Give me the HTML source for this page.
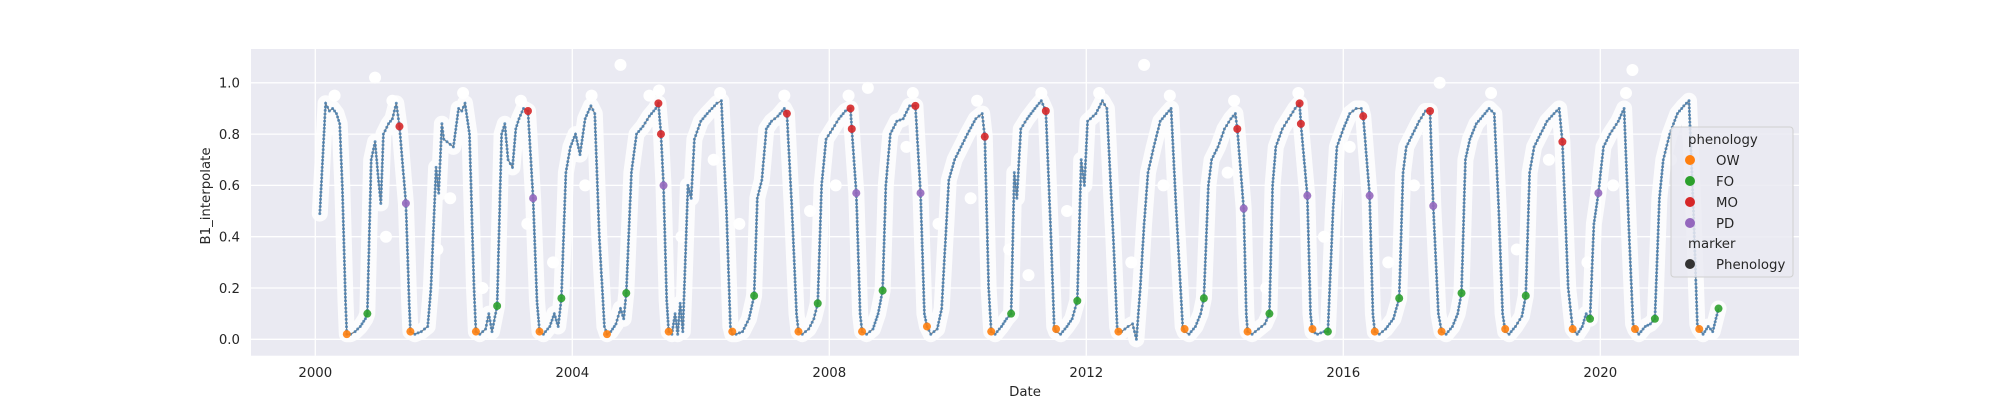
<!DOCTYPE html>
<html><head><meta charset="utf-8"><style>
html,body{margin:0;padding:0;background:#fff;}
svg{display:block;font-family:"DejaVu Sans","Liberation Sans",sans-serif;}
</style></head><body>
<svg id="chart" width="2000" height="400" viewBox="0 0 2000 400" xmlns="http://www.w3.org/2000/svg">
<rect x="251" y="49" width="1548" height="306.7" fill="#eaeaf2"/>
<g id="grid"></g>
<g id="scatter"></g>
<g id="series"></g>
<g id="marks"></g>
<g id="axes"></g>
<text x="0" y="0" transform="translate(210,196) rotate(-90)" text-anchor="middle" font-size="13.3" fill="#262626">B1_interpolate</text>
<text x="1025" y="396" text-anchor="middle" font-size="13.3" fill="#262626">Date</text>
<g>
<rect x="1671" y="127" width="122" height="150" rx="3" fill="#eaeaf2" fill-opacity="0.85" stroke="#d0d0d0"/>
<text x="1688" y="144" font-size="13.3" fill="#262626">phenology</text>
<circle cx="1690" cy="160" r="5" fill="#ff7f0e"/>
<text x="1716" y="165" font-size="13.3" fill="#262626">OW</text>
<circle cx="1690" cy="181" r="5" fill="#2ca02c"/>
<text x="1716" y="186" font-size="13.3" fill="#262626">FO</text>
<circle cx="1690" cy="202" r="5" fill="#d62728"/>
<text x="1716" y="207" font-size="13.3" fill="#262626">MO</text>
<circle cx="1690" cy="223" r="5" fill="#9467bd"/>
<text x="1716" y="228" font-size="13.3" fill="#262626">PD</text>
<text x="1688" y="248" font-size="13.3" fill="#262626">marker</text>
<circle cx="1690" cy="264" r="5" fill="#333"/>
<text x="1716" y="269" font-size="13.3" fill="#262626">Phenology</text>
</g>
</svg>
<script>
const xTickYears=[2000,2004,2008,2012,2016,2020];
const xTickLabels=["2000","2004","2008","2012","2016","2020"];
const yTickValues=[0,0.2,0.4,0.6,0.8,1.0];
const yTickLabels=["0.0","0.2","0.4","0.6","0.8","1.0"];
const seriesPoints=[
[0.07,0.49],[0.16,0.92],[0.22,0.89],[0.27,0.9],[0.33,0.88],[0.38,0.84],[0.42,0.6],[0.47,0.15],[0.49,0.02],
[0.55,0.02],[0.62,0.03],[0.7,0.05],[0.78,0.08],[0.81,0.10],[0.87,0.7],[0.93,0.77],[0.98,0.63],[1.02,0.53],[1.06,0.8],[1.14,0.84],[1.2,0.86],[1.26,0.92],[1.31,0.83],[1.41,0.53],[1.46,0.15],[1.48,0.03],
[1.55,0.02],[1.65,0.03],[1.75,0.05],[1.8,0.2],[1.88,0.67],[1.92,0.57],[1.97,0.84],[2.0,0.78],[2.15,0.75],[2.23,0.9],[2.28,0.89],[2.33,0.92],[2.4,0.8],[2.47,0.2],[2.50,0.03],
[2.56,0.02],[2.65,0.04],[2.7,0.1],[2.75,0.03],[2.83,0.13],[2.9,0.8],[2.95,0.84],[3.0,0.7],[3.07,0.67],[3.12,0.82],[3.17,0.86],[3.24,0.9],[3.31,0.89],[3.39,0.55],[3.45,0.15],[3.49,0.03],
[3.55,0.02],[3.65,0.05],[3.72,0.1],[3.78,0.05],[3.83,0.16],[3.9,0.65],[3.97,0.75],[4.05,0.8],[4.12,0.72],[4.2,0.86],[4.29,0.91],[4.35,0.88],[4.42,0.4],[4.5,0.05],[4.54,0.02],
[4.6,0.03],[4.68,0.06],[4.75,0.12],[4.8,0.08],[4.84,0.18],[4.92,0.65],[5.0,0.8],[5.1,0.83],[5.2,0.87],[5.3,0.9],[5.34,0.92],[5.38,0.8],[5.42,0.6],[5.47,0.15],[5.5,0.03],
[5.55,0.02],[5.6,0.1],[5.64,0.02],[5.68,0.14],[5.72,0.03],[5.8,0.6],[5.85,0.55],[5.9,0.78],[6.0,0.85],[6.1,0.88],[6.25,0.92],[6.32,0.93],[6.4,0.5],[6.46,0.05],[6.49,0.02],
[6.55,0.02],[6.65,0.03],[6.75,0.08],[6.83,0.17],[6.88,0.55],[6.95,0.62],[7.02,0.82],[7.1,0.85],[7.2,0.87],[7.3,0.9],[7.34,0.88],[7.42,0.5],[7.49,0.1],[7.52,0.03],
[7.58,0.02],[7.68,0.04],[7.76,0.08],[7.82,0.14],[7.88,0.6],[7.95,0.78],[8.05,0.82],[8.15,0.86],[8.25,0.89],[8.33,0.9],[8.35,0.82],[8.42,0.57],[8.48,0.1],[8.51,0.03],
[8.58,0.02],[8.68,0.04],[8.76,0.1],[8.83,0.19],[8.88,0.6],[8.95,0.8],[9.05,0.85],[9.15,0.86],[9.25,0.91],[9.34,0.91],[9.42,0.57],[9.48,0.1],[9.52,0.05],
[9.58,0.02],[9.68,0.04],[9.75,0.12],[9.8,0.35],[9.86,0.62],[9.95,0.7],[10.05,0.75],[10.15,0.8],[10.28,0.86],[10.38,0.88],[10.42,0.79],[10.48,0.2],[10.52,0.03],
[10.58,0.02],[10.68,0.05],[10.76,0.08],[10.83,0.1],[10.88,0.65],[10.92,0.55],[10.98,0.82],[11.08,0.86],[11.2,0.9],[11.3,0.93],[11.37,0.89],[11.45,0.4],[11.5,0.05],[11.53,0.03],
[11.6,0.02],[11.7,0.05],[11.78,0.08],[11.86,0.15],[11.92,0.7],[11.97,0.6],[12.02,0.85],[12.15,0.88],[12.25,0.93],[12.32,0.9],[12.42,0.4],[12.48,0.05],[12.5,0.03],
[12.55,0.03],[12.65,0.05],[12.72,0.06],[12.78,0.0],[12.84,0.2],[12.9,0.45],[12.96,0.65],[13.05,0.75],[13.15,0.85],[13.25,0.88],[13.32,0.9],[13.4,0.5],[13.5,0.05],[13.53,0.03],
[13.6,0.02],[13.7,0.05],[13.78,0.1],[13.83,0.16],[13.9,0.6],[13.95,0.7],[14.05,0.75],[14.15,0.82],[14.25,0.86],[14.32,0.88],[14.35,0.82],[14.45,0.51],[14.49,0.1],[14.51,0.03],
[14.58,0.02],[14.68,0.04],[14.78,0.06],[14.85,0.1],[14.9,0.6],[14.95,0.75],[15.05,0.82],[15.15,0.86],[15.25,0.9],[15.32,0.92],[15.34,0.84],[15.44,0.56],[15.49,0.1],[15.52,0.03],
[15.6,0.02],[15.7,0.03],[15.76,0.03],[15.84,0.5],[15.9,0.75],[16.0,0.82],[16.1,0.88],[16.2,0.9],[16.28,0.9],[16.31,0.87],[16.41,0.56],[16.46,0.1],[16.49,0.03],
[16.56,0.02],[16.66,0.04],[16.78,0.08],[16.87,0.16],[16.93,0.65],[16.98,0.75],[17.08,0.8],[17.18,0.85],[17.28,0.89],[17.35,0.89],[17.40,0.52],[17.48,0.1],[17.53,0.03],
[17.6,0.02],[17.7,0.05],[17.78,0.1],[17.84,0.18],[17.9,0.7],[17.97,0.78],[18.07,0.84],[18.17,0.87],[18.27,0.9],[18.35,0.88],[18.42,0.5],[18.48,0.1],[18.52,0.03],
[18.58,0.02],[18.68,0.05],[18.78,0.09],[18.84,0.17],[18.9,0.65],[18.97,0.75],[19.07,0.8],[19.17,0.85],[19.28,0.88],[19.36,0.9],[19.41,0.77],[19.5,0.2],[19.57,0.04],
[19.64,0.02],[19.72,0.05],[19.78,0.1],[19.84,0.08],[19.9,0.45],[19.97,0.57],[20.05,0.75],[20.15,0.8],[20.28,0.85],[20.37,0.9],[20.45,0.4],[20.51,0.06],[20.54,0.04],
[20.6,0.02],[20.7,0.05],[20.78,0.06],[20.85,0.08],[20.92,0.55],[20.98,0.7],[21.08,0.8],[21.2,0.88],[21.3,0.91],[21.38,0.93],[21.45,0.5],[21.51,0.06],[21.54,0.04],
[21.6,0.02],[21.68,0.05],[21.75,0.03],[21.84,0.12]
];
const rawOutliers=[[0.93,1.02],[4.75,1.07],[5.35,0.97],[12.9,1.07],[20.5,1.05],[17.5,1.0],[8.6,0.98],[1.9,0.35],[2.1,0.55],[6.6,0.45],[9.7,0.45],[10.8,0.35],[3.7,0.3],[14.8,0.2],[19.8,0.3],[5.7,0.4],[12.7,0.3],[16.7,0.3],[11.7,0.5],[7.7,0.5],[15.7,0.4],[18.7,0.35],[20.2,0.6],[13.2,0.6],[4.2,0.6],[8.1,0.6],[17.1,0.6],[1.1,0.4],[3.3,0.45],[10.2,0.55],[14.2,0.65],[6.2,0.7],[9.2,0.75],[19.2,0.7],[2.6,0.2],[11.1,0.25],[16.1,0.75],[21.1,0.7],
[0.3,0.95],[1.2,0.93],[2.3,0.96],[3.2,0.93],[4.3,0.95],[5.2,0.95],[6.3,0.96],[7.3,0.95],[8.3,0.95],[9.3,0.96],[10.3,0.93],[11.3,0.96],[12.2,0.96],[13.3,0.95],[14.3,0.93],[15.3,0.96],[18.3,0.96],[20.4,0.96]];
const owYears=[0.49,1.48,2.50,3.49,4.54,5.50,6.49,7.52,8.51,9.52,10.52,11.53,12.50,13.53,14.51,15.52,16.49,17.53,18.52,19.57,20.54,21.54];
const owValues=[0.02,0.03,0.03,0.03,0.02,0.03,0.03,0.03,0.03,0.05,0.03,0.04,0.03,0.04,0.03,0.04,0.03,0.03,0.04,0.04,0.04,0.04];
const foYears=[0.81,2.83,3.83,4.84,6.83,7.82,8.83,10.83,11.86,13.83,14.85,15.76,16.87,17.84,18.84,19.84,20.85,21.84];
const foValues=[0.10,0.13,0.16,0.18,0.17,0.14,0.19,0.10,0.15,0.16,0.10,0.03,0.16,0.18,0.17,0.08,0.08,0.12];
const moYears=[1.31,3.31,5.34,5.38,7.34,8.33,8.35,9.34,10.42,11.37,14.35,15.32,15.34,16.31,17.35,19.41];
const moValues=[0.83,0.89,0.92,0.80,0.88,0.90,0.82,0.91,0.79,0.89,0.82,0.92,0.84,0.87,0.89,0.77];
const pdYears=[1.41,3.39,5.42,8.42,9.42,14.45,15.44,16.41,17.40,19.97];
const pdValues=[0.53,0.55,0.60,0.57,0.57,0.51,0.56,0.56,0.52,0.57];

const NS="http://www.w3.org/2000/svg";
const X0=251,X1=1799,Y0=49,Y1=355.7;
function xs(y){return 315.3+(y-2000)*64.25;}
function xr(t){return xs(2000+t);}
function ys(v){return 339.3-v*256.5;}
function mk(tag,parent){const e=document.createElementNS(NS,tag);parent.appendChild(e);return e;}
const grid=document.getElementById('grid'),axes=document.getElementById('axes');
xTickYears.forEach((yr,i)=>{
 const l=mk('line',grid);
 
 
 l.setAttribute('x1',xs(yr));l.setAttribute('x2',xs(yr));l.setAttribute('y1',Y0);l.setAttribute('y2',Y1);
 l.setAttribute('stroke','#fff');l.setAttribute('stroke-width','1.3');
 const t=mk('text',axes);
 
 
 t.setAttribute('x',xs(yr));t.setAttribute('y',377);t.setAttribute('text-anchor','middle');t.setAttribute('font-size','13.3');t.setAttribute('fill','#262626');
 t.textContent=xTickLabels[i];
});
yTickValues.forEach((v,i)=>{
 const l=mk('line',grid);
 
 
 l.setAttribute('x1',X0);l.setAttribute('x2',X1);l.setAttribute('y1',ys(v));l.setAttribute('y2',ys(v));
 l.setAttribute('stroke','#fff');l.setAttribute('stroke-width','1.3');
 const t=mk('text',axes);
 
 
 t.setAttribute('x',240);t.setAttribute('y',ys(v)+4.8);t.setAttribute('text-anchor','end');t.setAttribute('font-size','13.3');t.setAttribute('fill','#262626');
 t.textContent=yTickLabels[i];
});
const sc=document.getElementById('scatter');
const pts=seriesPoints.map(p=>[xr(p[0]),ys(p[1])]);
const d='M'+pts.map(p=>p[0].toFixed(1)+','+p[1].toFixed(1)).join('L');
const halo=mk('path',sc);


halo.setAttribute('d',d);halo.setAttribute('fill','none');halo.setAttribute('stroke','#fff');halo.setAttribute('stroke-width','16');halo.setAttribute('stroke-linejoin','round');halo.setAttribute('stroke-linecap','round');halo.setAttribute('stroke-opacity','0.85');
rawOutliers.forEach(p=>{
 const c=mk('circle',sc);
 
 
 c.setAttribute('cx',xr(p[0]));c.setAttribute('cy',ys(p[1]));c.setAttribute('r',6);c.setAttribute('fill','#fff');
});
const se=document.getElementById('series');
const line=mk('path',se);


line.setAttribute('d',d);line.setAttribute('fill','none');line.setAttribute('stroke','#808080');line.setAttribute('stroke-width','1.2');
let dots='';
for(let i=0;i<pts.length-1;i++){
 const a=pts[i],b=pts[i+1];const L=Math.hypot(b[0]-a[0],b[1]-a[1]);const n=Math.max(1,Math.round(L/3.6));
 for(let k=0;k<n;k++){const f=k/n;const x=a[0]+(b[0]-a[0])*f,y=a[1]+(b[1]-a[1])*f;dots+='M'+(x-1.5).toFixed(1)+','+y.toFixed(1)+'a1.5,1.5 0 1,0 3,0a1.5,1.5 0 1,0 -3,0';}
}
const dp=mk('path',se);


dp.setAttribute('d',dots);dp.setAttribute('fill','#4a80b0');dp.setAttribute('fill-opacity','0.85');
const mg=document.getElementById('marks');
function drawMarks(years,vals,color,name){
 years.forEach((t,i)=>{
  const c=mk('circle',mg);
  
  
  c.setAttribute('cx',xr(t));c.setAttribute('cy',ys(vals[i]));c.setAttribute('r',4);c.setAttribute('fill',color);c.setAttribute('fill-opacity','0.9');
 });
}
drawMarks(owYears,owValues,'#ff7f0e','ow-marker');
drawMarks(foYears,foValues,'#2ca02c','fo-marker');
drawMarks(moYears,moValues,'#d62728','mo-marker');
drawMarks(pdYears,pdValues,'#9467bd','pd-marker');
</script>
</body></html>
